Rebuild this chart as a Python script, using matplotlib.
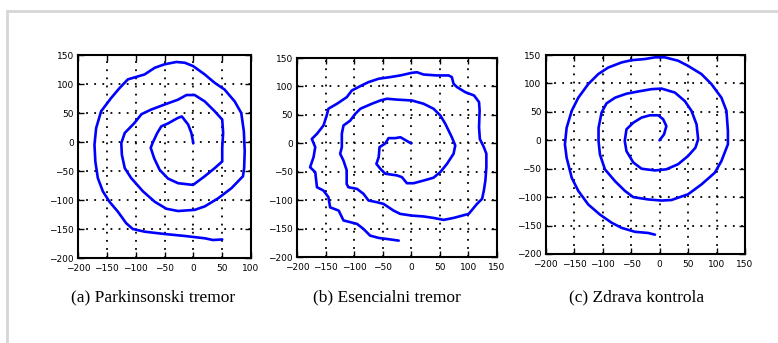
import matplotlib
matplotlib.use("Agg")
import matplotlib.pyplot as plt
from matplotlib.lines import Line2D

# spiral traces (x, y) for each subject
park_x = [0, -3.5, -9, -20, -27, -44, -55.6, -62.6, -70, -74, -68, -58.5, -44, -26.7, -0.6,
          19.7, 37, 50, 50, 51.6, 50, 37, 19.7, 2.3, -12, -26.7, -50, -73, -90, -102,
          -107.8, -119, -125, -124, -119, -108, -87.5, -67, -47, -26.7, 2.3, 19.7, 43, 66,
          86, 88, 89, 87.5, 83, 71.6, 54, 37, 19.7, -0.6, -15, -29.5, -50, -67, -84.6,
          -113.6, -128, -142.5, -160, -168.6, -171.5, -170, -165.7, -157, -145.5, -131,
          -116.5, -105, -84.6, -50, -15, 19.7, 34, 50]
park_y = [-2, 15.6, 30, 44, 41.5, 32, 27, 15.6, 0, -10, -28, -48, -63, -71, -74,
          -59, -45, -33.5, -10, 15.6, 38.6, 53, 70, 81, 81, 73, 64.6, 56, 48, 33,
          27, 15.6, -2, -22, -45, -62, -85, -103, -115, -119, -117, -111, -97, -79.6,
          -59, -45, -16, 18.5, 50, 70, 90.5, 102, 116.5, 131, 136.7, 138, 134, 128, 116.5,
          108, 93, 76, 53, 24, -4.6, -33.5, -62, -85, -103, -120,
          -140, -150, -154.6, -158.6, -162, -166, -169, -168]

ess_x = [0, -19, -28, -39.7, -45.6, -55.5, -57, -61, -54, -45.6, -25, -16.4, -7.6, 4, 21.6,
         39, 51, 62.5, 74, 77, 71, 59.6, 51, 39, 21.6, 1, -25, -42.6, -54, -69, -89, -98,
         -107, -118.6, -121.5, -121.5, -124.4, -118.6, -113, -113, -110, -95, -83.5, -74.8,
         -60, -48.5, -31, -19.3, 1, 21.6, 39, 56.7, 74, 100.5, 115, 124, 127, 129.7, 131.4,
         131.4, 127, 120, 118.6, 119.6, 118.6, 109.8, 94.6, 80, 74, 71, 65.4, 45, 21.6, 10,
         1, -19.3, -36.8, -57, -74.8, -86.5, -104, -112.7, -130, -145, -148, -153.6, -165,
         -174, -168, -171, -177, -168, -165, -153.6, -145, -142, -127, -118.6, -95, -83.5,
         -72, -57, -42.6, -22]
ess_y = [0, 11, 9.4, 9.4, 0, -6.4, -24, -35.7, -44.5, -53, -56, -59, -69.7, -69.7, -65,
         -60, -50, -35.7, -18, -3.5, 11, 34.5, 49, 61, 69.7, 75.5, 77, 78.5, 75.5, 69.7, 61, 52,
         40, 31.6, 17, -6.4, -18, -30, -47, -71, -76.7, -79.6, -88.4, -100,
         -103, -106, -117.7, -123.5, -126.5, -128, -130.6, -134, -130.6, -123.5, -106, -97, -82.6, -65, -41.6,
         -18, -6.4, 8, 28.7, 58, 72.6, 84.3, 90, 99, 104.8, 116.5, 119.4, 119.4, 121, 125,
         124, 119.4, 116.5, 113.6, 107.7, 102, 93, 81.4, 69.7, 61, 49, 31.6, 17,
         8, -6.4, -24, -41.6, -50.4, -76.7, -82.6, -94, -112, -117.7, -135, -141, -150,
         -161.6, -165.7, -167.5, -170.4]

ctrl_x = [0, 8, 12, 6.4, -2.3, -17, -31.5, -46, -58, -61, -58, -46, -31.5, -8, 12, 32.7,
          50, 63, 67.8, 65, 56, 44.4, 27, 3.5, -14, -37, -58, -78, -93, -101.6, -107, -107,
          -104.6, -95.8, -78, -60.7, -46, -20, 3.5, 21, 50, 73.6, 97, 108.6, 120, 120, 117.4,
          108.6, 91, 73.6, 50, 32.7, 9.3, -8, -25.7, -49, -66.6, -90, -107.5, -125, -142.5,
          -154, -163, -166, -163, -154, -142.5, -125, -104.6, -84, -66.6, -43, -20, -8]
ctrl_y = [0, 10.6, 25, 37, 44, 44, 40, 31, 19.4, -1.2, -19, -39, -50, -53, -51, -42,
          -27.6, -13, 1.8, 28, 52, 69, 84, 91, 90, 86, 82, 75, 65, 49, 22, -1.2,
          -24.7, -51, -72, -89, -100, -104, -106, -105, -95, -77.6, -57, -36.5, -7, 16.5, 52,
          75, 99, 116.5, 131, 140, 146, 146, 143, 141, 137, 128, 116.5, 99, 75,
          52, 22, -7, -30.6, -66, -89, -113, -130.6, -145, -154, -161, -163, -166]

captions = ["(a) Parkinsonski tremor", "(b) Esencialni tremor", "(c) Zdrava kontrola"]
x_limits = [(-200, 100), (-200, 150), (-200, 150)]
y_ticks = [-200, -150, -100, -50, 0, 50, 100, 150]

fig = plt.figure(figsize=(7.78, 3.43), dpi=100)

# axes boxes in figure fractions
boxes = [[0.1003, 0.2478, 0.2224, 0.5918],
         [0.3817, 0.2493, 0.2571, 0.5816],
         [0.7012, 0.2595, 0.2564, 0.5800]]
data = [(park_x, park_y), (ess_x, ess_y), (ctrl_x, ctrl_y)]
cap_x = [153, 387, 637]

for box, (xs, ys), xl, cap, cx in zip(boxes, data, x_limits, captions, cap_x):
    ax = fig.add_axes(box)
    ax.plot(xs, ys, color="#0000ff", lw=1.9, solid_capstyle="round", solid_joinstyle="round")
    ax.set_xlim(*xl)
    ax.set_ylim(-200, 150)
    ax.set_xticks(list(range(xl[0], xl[1] + 1, 50)))
    ax.set_yticks(y_ticks)
    ax.grid(True, color="black", linestyle=(0, (1, 3.5)), lw=1.3)
    ax.tick_params(direction="in", length=4, width=1, top=True, right=True,
                   labelsize=6.5, colors="black")
    ax.tick_params(axis="x", pad=4)
    ax.tick_params(axis="y", pad=3)
    for sp in ax.spines.values():
        sp.set_linewidth(1.5)
    fig.text(cx / 778, 1 - 297 / 343, cap, ha="center", va="center",
             family="Liberation Serif", fontsize=12.5)

# light frame along top and left edge
fig.add_artist(Line2D([7 / 778, 7 / 778], [0, 1 - 11 / 343], transform=fig.transFigure,
                      color="#d6d6d6", lw=2))
fig.add_artist(Line2D([7 / 778, 1], [1 - 11 / 343, 1 - 11 / 343], transform=fig.transFigure,
                      color="#d6d6d6", lw=2))

fig.savefig("out.png", dpi=100)
